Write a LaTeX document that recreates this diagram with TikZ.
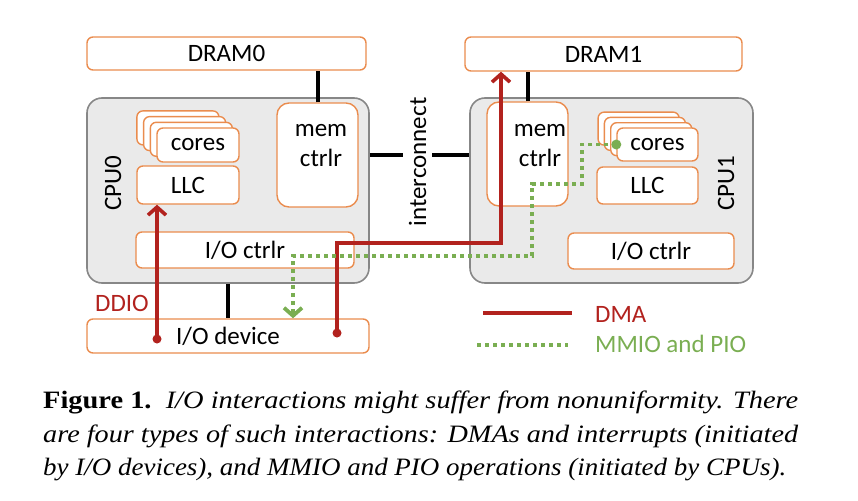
\documentclass[tikz,border=0pt]{standalone}
\usepackage{fontspec}
\setmainfont{Liberation Serif}
\newfontfamily\boxfont{Carlito}
\newfontfamily\capfont{Liberation Serif}
\usetikzlibrary{arrows.meta}
\definecolor{boxorange}{RGB}{234,140,78}
\definecolor{cpugray}{RGB}{135,135,135}
\definecolor{cpufill}{RGB}{234,234,234}
\definecolor{dmared}{RGB}{178,34,30}
\definecolor{mmiogreen}{RGB}{122,174,82}

\begin{document}
\begin{tikzpicture}[x=1pt, y=-1pt,
	obox/.style={draw=boxorange, line width=1.4pt, fill=white, rounded corners=6pt, inner sep=0pt, font=\boxfont\fontsize{25}{30}\selectfont},
	cpubox/.style={draw=cpugray, fill=cpufill, line width=1.6pt, rounded corners=15pt, inner sep=0pt},
	lbl/.style={inner sep=0pt, font=\boxfont\fontsize{25}{30}\selectfont},
	wire/.style={black, line width=4pt},
	dma/.style={dmared, line width=3.6pt},
	mmio/.style={mmiogreen, line width=3.8pt, dash pattern=on 4pt off 4pt},
	barb/.style={-{Straight Barb[length=8pt, width=18pt]}},
	captext/.style={anchor=base west, inner sep=0pt, font=\capfont\fontsize{25}{30}\selectfont}]
				\useasboundingbox (0,0) rectangle (858,500);
				
				\node[cpubox, minimum width=282pt, minimum height=185pt] (cpu0) at (228,190.5) {};
				\node[cpubox, minimum width=283pt, minimum height=185pt] (cpu1) at (611.5,190.5) {};
				\node[obox, minimum width=279pt, minimum height=33pt] (dram0) at (226.5,53.5) {DRAM0};
				\node[obox, minimum width=277pt, minimum height=34pt] (dram1) at (603.5,54) {DRAM1};
				\node[obox, minimum width=282pt, minimum height=34pt] (iodev) at (228,336) {I/O device};
				
				\foreach \i in {3,2,1}
				\node[obox, minimum width=82pt, minimum height=34pt] (cores0\i) at ({198-6.7*\i},{145-5.7*\i}) {};
				\node[obox, minimum width=82pt, minimum height=34pt] (cores0) at (198,145) {cores};
				\node[obox, minimum width=102pt, minimum height=38pt] (llc0) at (188,185) {LLC};
				\node[obox, rounded corners=12pt, minimum width=81pt, minimum height=104pt] (mem0) at (317.5,155) {};
				\node[lbl, align=center] (mem0lbl) at (321,146) {mem\\ctrlr};
				\node[obox, minimum width=218pt, minimum height=36pt] (ioc0) at (245,250) {I/O ctrlr};
				\node[lbl, rotate=90] (cpu0lbl) at (113,183) {CPU0};
				
				\foreach \i in {3,2,1}
				\node[obox, minimum width=81pt, minimum height=33pt] (cores1\i) at ({657.5-6.3*\i},{144.5-5.3*\i}) {};
				\node[obox, minimum width=81pt, minimum height=33pt] (cores1) at (657.5,144.5) {cores};
				\node[obox, minimum width=101pt, minimum height=37pt] (llc1) at (647.5,185.5) {LLC};
				\node[obox, rounded corners=12pt, minimum width=81pt, minimum height=104pt] (mem1) at (527.5,154) {};
				\node[lbl, align=center] (mem1lbl) at (540,146) {mem\\ctrlr};
				\node[obox, minimum width=166pt, minimum height=36pt] (ioc1) at (651,251) {I/O ctrlr};
				\node[lbl, rotate=90] (cpu1lbl) at (726,183.5) {CPU1};
				
				\node[lbl, rotate=90, inner sep=6pt] (ic) at (417.5,162) {interconnect};
				
				\draw[wire] (mem0.north) -- (mem0.north |- dram0.south);
				\draw[wire] (mem1.north) -- (mem1.north |- dram1.south);
				\draw[wire] (cpu0.south) -- (iodev.north);
				\draw[wire] (cpu0.east |- mem0.center) -- (ic.north |- mem0.center);
				\draw[wire] (ic.south |- mem0.center) -- (cpu1.west |- mem0.center);
				
				\coordinate (dmastart) at (337,333);
				\coordinate (dmabend) at (501,243);
				\draw[dma, barb] (dmastart) |- (dmabend) -- (dmabend |- dram1.south);
				\fill[dmared] (dmastart) circle (4.5pt);
				
				\coordinate (ddiostart) at (157,339);
				\draw[dma, barb] (ddiostart) -- (ddiostart |- llc0.south);
				\fill[dmared] (ddiostart) circle (4.5pt);
				\node[lbl, text=dmared] (ddio) at (122,303) {DDIO};
				
				\coordinate (mmio1) at (582,184);
				\coordinate (mmio2) at (532,256);
				\coordinate (mmio3) at (293,256);
				\draw[mmio, barb] (cores1.west) -| (mmio1) -| (mmio2) -- (mmio3) -- (mmio3 |- iodev.north);
				\fill[mmiogreen] (cores1.west) circle (5pt);
				
				\coordinate (legdmaa) at (483,313);
				\coordinate (legdmab) at (572,313);
				\draw[dma] (legdmaa) -- (legdmab);
				\node[lbl, text=dmared, anchor=west] (legdma) at (595,314.5) {DMA};
				\coordinate (legmmioa) at (477,345);
				\coordinate (legmmiob) at (568,345);
				\draw[mmio] (legmmioa) -- (legmmiob);
				\node[lbl, text=mmiogreen, anchor=west] (legmmio) at (595,343.5) {MMIO and PIO};
				
				\node[captext] (cap1) at (43,408) {\resizebox{755pt}{\height}{\textbf{Figure\hspace{0.25em}1.}\hspace{0.5em}\textit{I/O interactions might suffer from nonuniformity. There}}};
				\node[captext] (cap2) at (43,442) {\resizebox{755pt}{\height}{\textit{are four types of such interactions: DMAs and interrupts (initiated}}};
				\node[captext] (cap3) at (43,475) {\resizebox{743pt}{\height}{\textit{by I/O devices), and MMIO and PIO operations (initiated by CPUs).}}};
\end{tikzpicture}
\end{document}
